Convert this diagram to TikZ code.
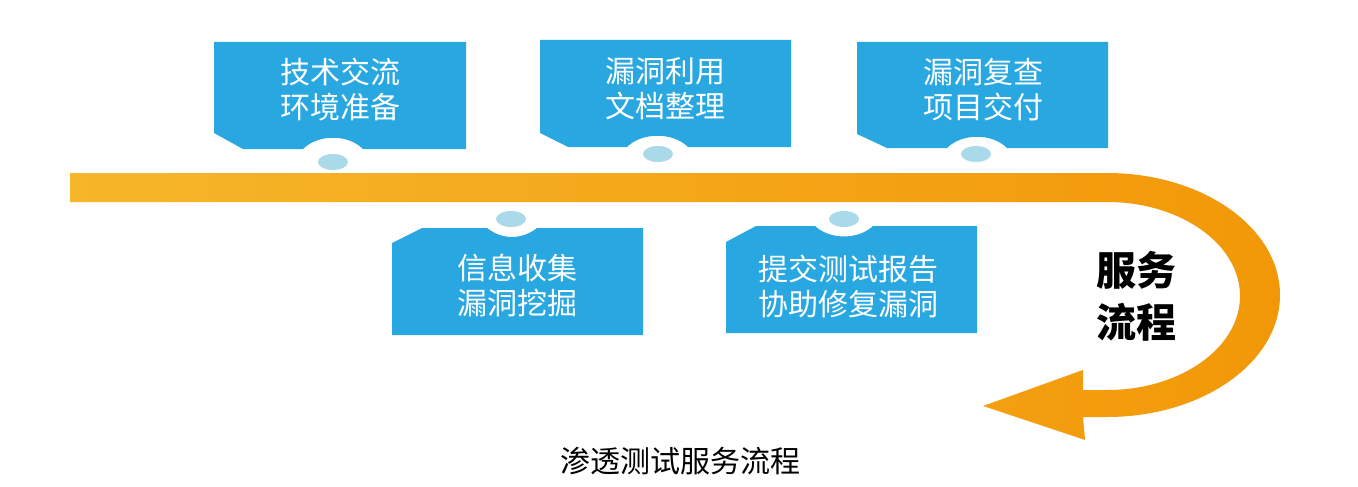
\documentclass[tikz,border=0pt]{standalone}
\usepackage{fontspec}
\setmainfont{Noto Sans CJK SC}
\usetikzlibrary{shapes.geometric}
\definecolor{boxblue}{RGB}{41,167,225}
\definecolor{dotblue}{RGB}{170,218,234}
\definecolor{bandL}{RGB}{246,182,42}
\definecolor{bandR}{RGB}{242,152,8}
\begin{document}
\begin{tikzpicture}[x=1pt,y=-1pt,
  box/.style={fill=boxblue,draw=none},
  dot/.style={ellipse,fill=dotblue,minimum width=30pt,minimum height=16pt,inner sep=0pt},
  boxlabel/.style={text=white,font=\fontsize{30}{35}\selectfont,align=center,inner sep=0pt},
  bigtitle/.style={text=black,font=\fontsize{40}{52}\selectfont\bfseries,align=center,inner sep=0pt},
  caption/.style={text=black,font=\fontsize{30}{35}\selectfont,inner sep=0pt}]
\useasboundingbox (0,0) rectangle (1358,487);
% band with U-turn arrow
\shade[left color=bandL,right color=bandR]
  (70,173) -- (1107,173)
  arc[start angle=-90,end angle=90,x radius=173,y radius=122]
  -- (1083,417) -- (1085,440) -- (983,406) -- (1083,370) -- (1083,390) -- (1107,390)
  arc[start angle=90,end angle=-90,x radius=133,y radius=94]
  -- (70,202) -- cycle;
% top boxes
\fill[box] (214,42) -- (466,42) -- (466,149) -- (363,149) .. controls (348,134) and (318,134) .. (303,149) -- (243,149) -- (214,133) -- cycle;
\fill[box] (540,40) -- (791,40) -- (791,147) -- (688,147) .. controls (673,132) and (642,132) .. (627,147) -- (568,147) -- (540,133) -- cycle;
\fill[box] (857,42) -- (1108,42) -- (1108,148) -- (1007,148) .. controls (992,133) and (962,133) .. (947,148) -- (887,148) -- (857,134) -- cycle;
% bottom boxes
\fill[box] (392,243) -- (422,228) -- (487,228) .. controls (502,240) and (522,240) .. (537,228) -- (643,228) -- (643,335) -- (392,335) -- cycle;
\fill[box] (726,242) -- (756,226) -- (815,226) .. controls (830,240) and (858,240) .. (873,226) -- (977,226) -- (977,333) -- (726,333) -- cycle;
% dots
\node[dot] (d1) at (333,162) {};
\node[dot] (d2) at (658,154) {};
\node[dot] (d3) at (976,154) {};
\node[dot] (d4) at (511,219) {};
\node[dot] (d5) at (844,219) {};
% labels
\node[boxlabel] (t1) at (340,90) {技术交流\\环境准备};
\node[boxlabel] (t2) at (665,89) {漏洞利用\\文档整理};
\node[boxlabel] (t3) at (983,90) {漏洞复查\\项目交付};
\node[boxlabel] (t4) at (517,285) {信息收集\\漏洞挖掘};
\node[boxlabel] (t5) at (848,286) {提交测试报告\\协助修复漏洞};
\node[bigtitle] (flow) at (1136,296) {服务\\流程};
\node[caption] (cap) at (680,461) {渗透测试服务流程};
\end{tikzpicture}
\end{document}
